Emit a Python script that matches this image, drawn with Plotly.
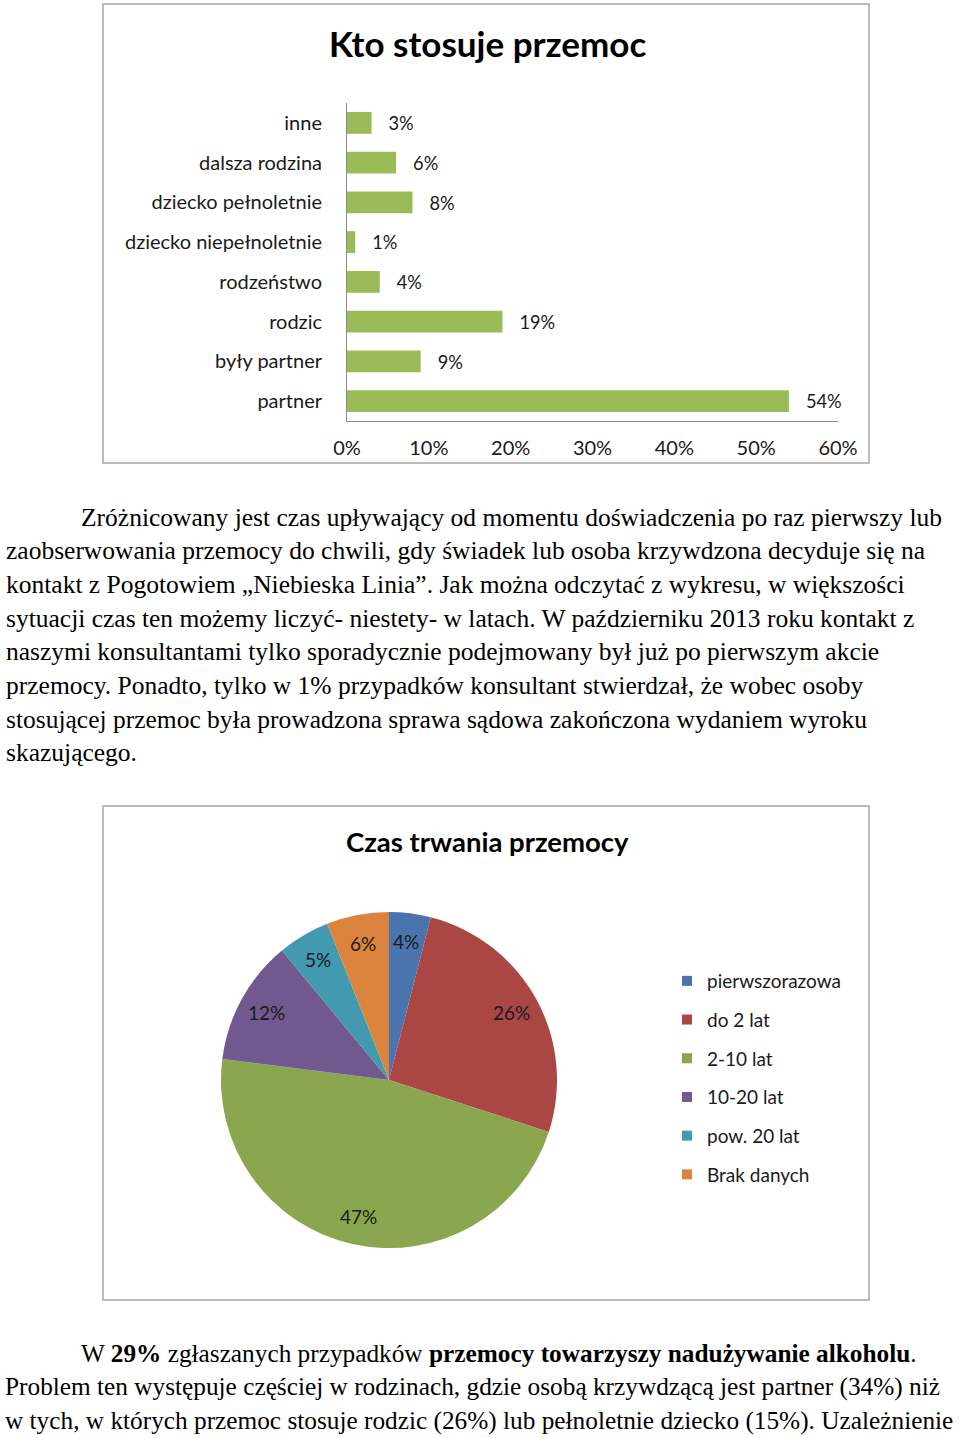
import math
import plotly.graph_objects as go

W, H = 960, 1438

# ---- data ----
bar_categories = ["inne", "dalsza rodzina", "dziecko pełnoletnie", "dziecko niepełnoletnie",
                  "rodzeństwo", "rodzic", "były partner", "partner"]
bar_values = [3, 6, 8, 1, 4, 19, 9, 54]
bar_title = "Kto stosuje przemoc"

pie_labels = ["pierwszorazowa", "do 2 lat", "2-10 lat", "10-20 lat", "pow. 20 lat", "Brak danych"]
pie_values = [4, 26, 47, 12, 5, 6]
pie_colors = ["#4A74AE", "#AA4745", "#8AA750", "#71598F", "#4299B0", "#DB843D"]
pie_title = "Czas trwania przemocy"

para1 = [
    "Zróżnicowany jest czas upływający od momentu doświadczenia po raz pierwszy lub",
    "zaobserwowania przemocy do chwili, gdy świadek lub osoba krzywdzona decyduje się na",
    "kontakt z Pogotowiem „Niebieska Linia”. Jak można odczytać z wykresu, w większości",
    "sytuacji czas ten możemy liczyć- niestety- w latach. W październiku 2013 roku kontakt z",
    "naszymi konsultantami tylko sporadycznie podejmowany był już po pierwszym akcie",
    "przemocy. Ponadto, tylko w 1% przypadków konsultant stwierdzał, że wobec osoby",
    "stosującej przemoc była prowadzona sprawa sądowa zakończona wydaniem wyroku",
    "skazującego.",
]
para2 = [
    "W <b>29%</b> zgłaszanych przypadków <b>przemocy towarzyszy nadużywanie alkoholu</b>.",
    "Problem ten występuje częściej w rodzinach, gdzie osobą krzywdzącą jest partner (34%) niż",
    "w tych, w których przemoc stosuje rodzic (26%) lub pełnoletnie dziecko (15%). Uzależnienie",
]

SANS = "Lato"
SERIF = "Liberation Serif"
TXT = "#1a1a1a"


def px_x(v):
    return v / W


def px_y(v):
    return 1 - v / H


fig = go.Figure()

fig.add_trace(go.Bar(
    x=bar_values, y=bar_categories, orientation="h",
    marker=dict(color="#9BBB59", line=dict(width=0)),
    text=[f"   {v}%" for v in bar_values], textposition="outside",
    textfont=dict(family=SANS, size=20, color=TXT),
    cliponaxis=False, showlegend=False, hoverinfo="skip",
))

# pie geometry (pixel box of the pie domain)
PX0, PX1, PY0, PY1 = 221, 557, 912, 1248
fig.add_trace(go.Pie(
    labels=pie_labels, values=pie_values, sort=False, direction="clockwise", rotation=0,
    marker=dict(colors=pie_colors, line=dict(width=0)),
    textinfo="none",
    domain=dict(x=[px_x(PX0), px_x(PX1)], y=[px_y(PY1), px_y(PY0)]),
    showlegend=False, hoverinfo="skip",
))

# legend entries for the pie
for lab, col in zip(pie_labels, pie_colors):
    fig.add_trace(go.Scatter(
        x=[None], y=[None], mode="markers", name=lab,
        marker=dict(symbol="square", size=10, color=col),
        legendgroup=lab, showlegend=True,
    ))

fig.update_layout(
    template="none",
    width=W, height=H, margin=dict(l=0, r=0, t=0, b=0, pad=0, autoexpand=False),
    paper_bgcolor="white", plot_bgcolor="white",
    bargap=0.45,
    xaxis=dict(domain=[px_x(347), px_x(838)], range=[0, 60], dtick=10, ticksuffix="%",
               showgrid=False, zeroline=False, showline=True, linecolor="#8c8c8c", linewidth=1,
               ticks="", ticklabelstandoff=9, automargin=False,
               tickfont=dict(family=SANS, size=20, color=TXT), fixedrange=True),
    yaxis=dict(domain=[px_y(421), px_y(103)], autorange="reversed", type="category",
               showgrid=False, zeroline=False, showline=True, linecolor="#8c8c8c", linewidth=1,
               ticks="", ticklabelstandoff=20, automargin=False,
               tickfont=dict(family=SANS, size=20, color=TXT)),
    legend=dict(x=px_x(667), y=px_y(962), xanchor="left", yanchor="top",
                font=dict(family=SANS, size=19, color=TXT),
                tracegroupgap=11, itemclick=False, bgcolor="rgba(0,0,0,0)", borderwidth=0),
    showlegend=True,
)

shapes = [
    dict(type="rect", xref="paper", yref="paper", x0=px_x(103), x1=px_x(869), y0=px_y(463), y1=px_y(4),
         line=dict(color="#a6a6a6", width=1.5)),
    dict(type="rect", xref="paper", yref="paper", x0=px_x(103), x1=px_x(869), y0=px_y(1300), y1=px_y(806),
         line=dict(color="#a6a6a6", width=1.5)),
]
fig.update_layout(shapes=shapes)

ann = []
ann.append(dict(text=f"<b>{bar_title}</b>", x=px_x(487), y=px_y(43), xref="paper", yref="paper",
                xanchor="center", yanchor="middle",
                showarrow=False, font=dict(family=SANS, size=35, color="#000")))
ann.append(dict(text=f"<b>{pie_title}</b>", x=px_x(487), y=px_y(841), xref="paper", yref="paper",
                xanchor="center", yanchor="middle",
                showarrow=False, font=dict(family=SANS, size=27.5, color="#000")))

# pie percentage labels placed at the middle angle of each slice
cx, cy = (PX0 + PX1) / 2, (PY0 + PY1) / 2
R = (PX1 - PX0) / 2
total = sum(pie_values)
cum = 0
for v in pie_values:
    mid = (cum + v / 2) / total * 2 * math.pi
    cum += v
    lx = cx + 0.83 * R * math.sin(mid)
    ly = cy - 0.83 * R * math.cos(mid)
    ann.append(dict(text=f"{round(v / total * 100)}%", x=px_x(lx), y=px_y(ly), xref="paper", yref="paper",
                    xanchor="center", yanchor="middle", showarrow=False,
                    font=dict(family=SANS, size=19, color=TXT)))

line_h = 33.7
for i, t in enumerate(para1):
    ann.append(dict(text=t, x=px_x(79 if i == 0 else 4), y=px_y(517 + i * line_h), xref="paper", yref="paper",
                    xanchor="left", yanchor="middle", showarrow=False,
                    font=dict(family=SERIF, size=25.5, color="#000")))
for i, t in enumerate(para2):
    ann.append(dict(text=t, x=px_x(79 if i == 0 else 3), y=px_y(1353 + i * line_h), xref="paper", yref="paper",
                    xanchor="left", yanchor="middle", showarrow=False,
                    font=dict(family=SERIF, size=25.3, color="#000")))
fig.update_layout(annotations=ann)

fig.write_html("out.html", config={"displayModeBar": False},
               post_script="document.body.style.margin='0';document.body.style.overflow='hidden';")
